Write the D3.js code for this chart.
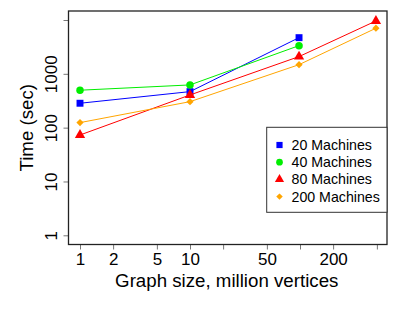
<!DOCTYPE html>
<html>
<head>
<meta charset="utf-8">
<script src="https://cdn.jsdelivr.net/npm/d3@7"></script>
<style>
  body { margin: 0; background: #fff; }
  text { font-family: "Liberation Sans", Arial, sans-serif; }
</style>
</head>
<body>
<div id="chart"></div>
<script>
// graph sizes (million vertices)
const sizes = [1, 10, 98, 490];
const seriesNames = ["20 Machines", "40 Machines", "80 Machines", "200 Machines"];
const machines20 = [284, 467, 4700];
const machines40 = [496, 622, 3340];
const machines80 = [73, 405, 2090, 9600];
const machines200 = [124, 304, 1480, 7040];
const xTicks = [1, 2, 5, 10, 20, 50, 100, 200, 500];
const xTickLabels = ["1", "2", "5", "10", "", "50", "", "200", ""];
const yTicks = [1, 10, 100, 1000, 10000];
const yTickLabels = ["1", "10", "100", "1000", ""];

const width = 399, height = 313;
const box = {left: 68.5, right: 387, top: 11, bottom: 244.5};

const colors = ["#0000ff", "#00ee00", "#ff0000", "#ffa500"];
// R-like pch 15, 16, 17, 18
const shapes = [d3.symbolSquare, d3.symbolCircle, d3.symbolTriangle, d3.symbolSquare];
const symSize = [48, 44, 46, 26];
const symRot = [0, 0, 0, 45];

const svg = d3.select("#chart").append("svg")
    .attr("width", width)
    .attr("height", height);

const x = d3.scaleLog().domain([1, 500]).range([80, 80 + 110 * Math.log10(500)]);
const y = d3.scaleLog().domain([1, 10000]).range([235.3, 20]);

// x axis
const xAxis = svg.append("g")
    .attr("transform", `translate(0,${box.bottom})`)
    .call(d3.axisBottom(x).tickValues(xTicks).tickSize(5).tickPadding(3)
        .tickFormat((d, i) => xTickLabels[i]));
xAxis.select(".domain").remove();
xAxis.selectAll(".tick line").attr("stroke", "#777");
xAxis.selectAll(".tick text").attr("font-size", 17).attr("fill", "#000")
    .attr("font-family", "Liberation Sans, Arial, sans-serif");

// y axis (labels parallel to the axis)
const yAxis = svg.append("g")
    .attr("transform", `translate(${box.left},0)`)
    .call(d3.axisLeft(y).tickValues(yTicks).tickSize(5)
        .tickFormat((d, i) => yTickLabels[i]));
yAxis.select(".domain").remove();
yAxis.selectAll(".tick line").attr("stroke", "#777");
yAxis.selectAll(".tick text")
    .attr("font-size", 17).attr("fill", "#000")
    .attr("font-family", "Liberation Sans, Arial, sans-serif")
    .attr("text-anchor", "middle")
    .attr("x", 0).attr("dy", 0)
    .attr("transform", "translate(-12,0) rotate(-90)");

// frame
svg.append("rect")
    .attr("x", box.left).attr("y", box.top)
    .attr("width", box.right - box.left).attr("height", box.bottom - box.top)
    .attr("fill", "none").attr("stroke", "#222").attr("stroke-width", 1.3);

// titles
svg.append("text")
    .attr("x", (box.left + box.right) / 2 - 1).attr("y", 287)
    .attr("text-anchor", "middle").attr("font-size", 18.7)
    .text("Graph size, million vertices");
svg.append("text")
    .attr("transform", `translate(33,${(box.top + box.bottom) / 2}) rotate(-90)`)
    .attr("text-anchor", "middle").attr("font-size", 18.7)
    .text("Time (sec)");

const series = [machines20, machines40, machines80, machines200];
const line = d3.line().x(d => x(d[0])).y(d => y(d[1]));

series.forEach((vals, i) => {
    const pts = vals.map((v, j) => [sizes[j], v]);
    svg.append("path")
        .attr("d", line(pts))
        .attr("fill", "none")
        .attr("stroke", colors[i])
        .attr("stroke-width", 1);
    svg.selectAll(null)
        .data(pts)
        .join("path")
        .attr("transform", d => `translate(${x(d[0])},${y(d[1])}) rotate(${symRot[i]})`)
        .attr("d", d3.symbol(shapes[i], symSize[i]))
        .attr("fill", colors[i]);
});

// legend
const lg = svg.append("g");
lg.append("rect")
    .attr("x", 266.7).attr("y", 127.3)
    .attr("width", box.right - 266.7).attr("height", 85)
    .attr("fill", "#fff").attr("stroke", "#333").attr("stroke-width", 1);
seriesNames.forEach((name, i) => {
    const cy = 145 + i * 17.2;
    lg.append("path")
        .attr("transform", `translate(279.5,${cy}) rotate(${symRot[i]})`)
        .attr("d", d3.symbol(shapes[i], symSize[i] * 0.8))
        .attr("fill", colors[i]);
    lg.append("text")
        .attr("x", 291.5).attr("y", cy)
        .attr("dy", "0.35em")
        .attr("font-size", 14.2)
        .text(name);
});
</script>
</body>
</html>
